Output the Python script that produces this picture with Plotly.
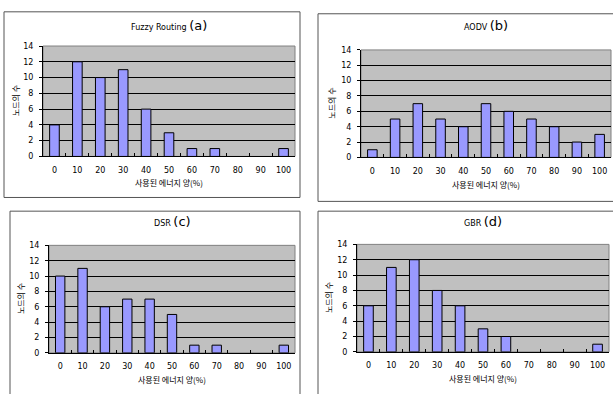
import plotly.graph_objects as go

W, H = 613, 394

categories = ["0", "10", "20", "30", "40", "50", "60", "70", "80", "90", "100"]
fuzzy_vals = [4, 12, 10, 11, 6, 3, 1, 1, 0, 0, 1]
aodv_vals = [1, 5, 7, 5, 4, 7, 6, 5, 4, 2, 3]
dsr_vals = [10, 11, 6, 7, 7, 5, 1, 1, 0, 0, 1]
gbr_vals = [6, 11, 12, 8, 6, 3, 2, 0, 0, 0, 1]
titles = ["Fuzzy Routing", "AODV", "DSR", "GBR"]
letters = ["(a)", "(b)", "(c)", "(d)"]
x_title = "사용된 에너지 양(%)"
y_title = "노드의 수"
y_ticks = [0, 2, 4, 6, 8, 10, 12, 14]

series = [fuzzy_vals, aodv_vals, dsr_vals, gbr_vals]

# pixel layout: plot area (x0, x1, ytop, ybottom), panel box, title y, y-title x
plots = [
    (43, 295, 43, 156),
    (361, 611, 47, 157),
    (49, 295, 247, 357),
    (357, 609, 246, 356),
]
boxes = [
    (4, 8, 300, 198),
    (318, 10, 640, 202),
    (10, 212, 300, 420),
    (318, 212, 640, 420),
]
title_y = [22, 22, 223, 223]
ytitle_x = [15, 332, 20, 328]
xtitle_y = [183, 185, 384, 383]

def px(x):
    return x / W

def py(y):
    return 1 - y / H

CJK = "Noto Sans CJK KR, DejaVu Sans, sans-serif"
NUM = "DejaVu Sans, sans-serif"

fig = go.Figure()
annotations = []
shapes = []

for i, vals in enumerate(series):
    sfx = "" if i == 0 else str(i + 1)
    fig.add_trace(go.Bar(
        x=categories, y=[v if v else None for v in vals],
        xaxis="x" + sfx, yaxis="y" + sfx,
        marker=dict(color="#9999FF", line=dict(color="#000000", width=1)),
        showlegend=False,
    ))
    x0, x1, yt, yb = plots[i]
    fig.update_layout(**{
        "xaxis" + sfx: dict(
            domain=[px(x0), px(x1)], anchor="y" + sfx,
            type="category", categoryorder="array", categoryarray=categories,
            tickson="boundaries", ticks="inside", ticklen=3,
            tickcolor="#000", showline=True, linecolor="#000", linewidth=1,
            showgrid=False, tickfont=dict(family=NUM, size=8, color="#000"),
            ticklabelstandoff=6, tickangle=0, fixedrange=True,
        ),
        "yaxis" + sfx: dict(
            domain=[py(yb), py(yt)], anchor="x" + sfx,
            range=[0, 14], tickvals=y_ticks, ticks="outside", ticklen=3,
            tickcolor="#000", showline=True, linecolor="#000", linewidth=1,
            showgrid=True, gridcolor="#000", gridwidth=1, zeroline=False,
            tickfont=dict(family=NUM, size=8, color="#000"),
            ticklabelstandoff=4, fixedrange=True,
        ),
    })
    # plot area background
    shapes.append(dict(type="rect", xref="paper", yref="paper",
                       x0=px(x0), x1=px(x1), y0=py(yb), y1=py(yt),
                       fillcolor="#C0C0C0", line=dict(color="#808080", width=1),
                       layer="below"))
    # panel box
    bx0, by0, bx1, by1 = boxes[i]
    shapes.append(dict(type="rect", xref="paper", yref="paper",
                       x0=px(bx0), x1=px(bx1), y0=py(by1), y1=py(by0),
                       fillcolor="rgba(0,0,0,0)", line=dict(color="#555555", width=1),
                       layer="below"))
    cx = (x0 + x1) / 2
    annotations.append(dict(
        xref="paper", yref="paper", x=px(cx), y=py(title_y[i]),
        text=titles[i] + " <span style='font-size:13px'>" + letters[i] + "</span>",
        showarrow=False, font=dict(family=NUM, size=8, color="#000"),
        xanchor="center", yanchor="middle"))
    annotations.append(dict(
        xref="paper", yref="paper", x=px(cx), y=py(xtitle_y[i]),
        text=x_title, showarrow=False,
        font=dict(family=CJK, size=8, color="#000"),
        xanchor="center", yanchor="middle"))
    annotations.append(dict(
        xref="paper", yref="paper", x=px(ytitle_x[i]), y=py((yt + yb) / 2),
        text=y_title, showarrow=False, textangle=-90,
        font=dict(family=CJK, size=8, color="#000"),
        xanchor="center", yanchor="middle"))

fig.update_layout(
    width=W, height=H, margin=dict(l=0, r=0, t=0, b=0),
    paper_bgcolor="white", plot_bgcolor="rgba(0,0,0,0)",
    bargap=0.58, shapes=shapes, annotations=annotations,
)

fig.write_html(
    "out.html",
    config={"displayModeBar": False, "staticPlot": True},
    post_script="document.body.style.margin='0';document.body.style.overflow='hidden';",
)
